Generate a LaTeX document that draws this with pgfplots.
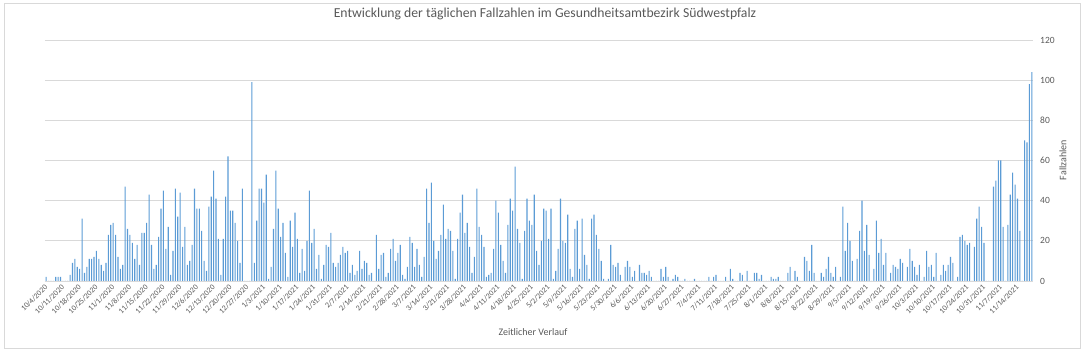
\documentclass[border=0pt]{standalone}
\usepackage{pgfplots}
\pgfplotsset{compat=1.18}
\usepackage{fontspec}
\setmainfont{Carlito}
\definecolor{barblue}{HTML}{5B9BD5}
\definecolor{txtgray}{HTML}{595959}
\definecolor{gridgray}{HTML}{D9D9D9}
\begin{document}
\begin{tikzpicture}[x=1pt,y=1pt]
\path[use as bounding box] (0,0) rectangle (1085,356);
\draw[gridgray, line width=0.8pt] (4.5,7.5) rectangle (1080.5,353);
\node[text=txtgray, font=\fontsize{13.7}{15}\selectfont] at (545,342) {Entwicklung der täglichen Fallzahlen im Gesundheitsamtbezirk Südwestpfalz};
\node[text=txtgray, font=\fontsize{10}{12}\selectfont] at (533,24) {Zeitlicher Verlauf};
\node[text=txtgray, font=\fontsize{10}{12}\selectfont, rotate=90] at (1063,196) {Fallzahlen};
\begin{axis}[
  at={(45pt,75pt)}, anchor=south west,
  scale only axis, width=988pt, height=241pt,
  xmin=-0.5, xmax=412.5, ymin=0, ymax=120,
  ybar, bar width=1.1pt,
  axis line style={draw=none},
  major tick length=0pt,
  ytick={0,20,...,120},
  ymajorgrids, grid style={gridgray, line width=0.8pt},
  yticklabel pos=right,
  /pgf/number format/assume math mode=true,
  yticklabel style={anchor=west, inner sep=0pt, xshift=7pt, text=txtgray, font=\fontsize{9.5}{11}\selectfont},
  xtick={0,7,...,406},
  xticklabels={10/4/2020,10/11/2020,10/18/2020,10/25/2020,11/1/2020,11/8/2020,11/15/2020,11/22/2020,11/29/2020,12/6/2020,12/13/2020,12/20/2020,12/27/2020,1/3/2021,1/10/2021,1/17/2021,1/24/2021,1/31/2021,2/7/2021,2/14/2021,2/21/2021,2/28/2021,3/7/2021,3/14/2021,3/21/2021,3/28/2021,4/4/2021,4/11/2021,4/18/2021,4/25/2021,5/2/2021,5/9/2021,5/16/2021,5/23/2021,5/30/2021,6/6/2021,6/13/2021,6/20/2021,6/27/2021,7/4/2021,7/11/2021,7/18/2021,7/25/2021,8/1/2021,8/8/2021,8/15/2021,8/22/2021,8/29/2021,9/5/2021,9/12/2021,9/19/2021,9/26/2021,10/3/2021,10/10/2021,10/17/2021,10/24/2021,10/31/2021,11/7/2021,11/14/2021},
  xticklabel style={rotate=45, anchor=east, inner sep=0pt, text=txtgray, font=\fontsize{7.8}{9}\selectfont},
  xticklabel shift=5pt,
]
\addplot[fill=barblue, draw=none] coordinates {
(0,2)(1,0)(2,0)(3,0)(4,2)(5,2)(6,2)(7,0)(8,0)(9,0)
(10,3)(11,9)(12,11)(13,7)(14,6)(15,31)(16,4)(17,7)(18,11)(19,11)
(20,12)(21,15)(22,11)(23,8)(24,5)(25,9)(26,23)(27,28)(28,29)(29,23)
(30,12)(31,6)(32,8)(33,47)(34,26)(35,23)(36,19)(37,11)(38,18)(39,8)
(40,24)(41,24)(42,29)(43,43)(44,18)(45,6)(46,8)(47,22)(48,36)(49,45)
(50,16)(51,27)(52,3)(53,15)(54,46)(55,32)(56,44)(57,17)(58,27)(59,8)
(60,10)(61,18)(62,46)(63,36)(64,36)(65,25)(66,10)(67,5)(68,37)(69,42)
(70,55)(71,41)(72,21)(73,3)(74,21)(75,42)(76,62)(77,35)(78,35)(79,29)
(80,20)(81,9)(82,46)(83,0)(84,0)(85,0)(86,99)(87,9)(88,30)(89,46)
(90,46)(91,39)(92,53)(93,1)(94,7)(95,26)(96,55)(97,36)(98,22)(99,29)
(100,14)(101,2)(102,30)(103,17)(104,34)(105,21)(106,4)(107,16)(108,5)(109,20)
(110,45)(111,19)(112,26)(113,6)(114,13)(115,1)(116,8)(117,18)(118,17)(119,24)
(120,9)(121,7)(122,9)(123,13)(124,17)(125,14)(126,15)(127,4)(128,8)(129,3)
(130,5)(131,15)(132,6)(133,10)(134,9)(135,3)(136,4)(137,0)(138,23)(139,6)
(140,13)(141,14)(142,2)(143,4)(144,16)(145,21)(146,10)(147,14)(148,18)(149,3)
(150,1)(151,7)(152,22)(153,19)(154,7)(155,16)(156,8)(157,2)(158,12)(159,46)
(160,29)(161,49)(162,20)(163,11)(164,15)(165,23)(166,38)(167,21)(168,26)(169,25)
(170,15)(171,1)(172,21)(173,34)(174,43)(175,24)(176,29)(177,17)(178,4)(179,12)
(180,46)(181,27)(182,23)(183,17)(184,2)(185,3)(186,4)(187,16)(188,40)(189,34)
(190,18)(191,10)(192,4)(193,28)(194,41)(195,35)(196,57)(197,26)(198,19)(199,1)
(200,25)(201,41)(202,30)(203,28)(204,43)(205,15)(206,8)(207,20)(208,36)(209,35)
(210,21)(211,36)(212,1)(213,5)(214,16)(215,41)(216,20)(217,19)(218,33)(219,6)
(220,2)(221,26)(222,30)(223,6)(224,31)(225,13)(226,8)(227,1)(228,31)(229,33)
(230,23)(231,16)(232,10)(233,1)(234,0)(235,1)(236,18)(237,8)(238,7)(239,9)
(240,3)(241,0)(242,7)(243,10)(244,7)(245,2)(246,5)(247,0)(248,8)(249,4)
(250,4)(251,3)(252,5)(253,2)(254,0)(255,0)(256,0)(257,6)(258,2)(259,7)
(260,2)(261,0)(262,1)(263,3)(264,2)(265,0)(266,0)(267,1)(268,0)(269,0)
(270,0)(271,1)(272,0)(273,0)(274,0)(275,0)(276,0)(277,2)(278,0)(279,2)
(280,3)(281,0)(282,0)(283,0)(284,2)(285,0)(286,6)(287,1)(288,0)(289,0)
(290,4)(291,3)(292,0)(293,5)(294,0)(295,0)(296,4)(297,4)(298,1)(299,3)
(300,0)(301,0)(302,0)(303,2)(304,1)(305,1)(306,2)(307,0)(308,0)(309,0)
(310,4)(311,7)(312,0)(313,5)(314,2)(315,0)(316,0)(317,12)(318,10)(319,5)
(320,18)(321,4)(322,0)(323,0)(324,4)(325,2)(326,6)(327,12)(328,4)(329,2)
(330,7)(331,0)(332,2)(333,37)(334,15)(335,29)(336,20)(337,10)(338,0)(339,11)
(340,25)(341,40)(342,15)(343,28)(344,13)(345,0)(346,6)(347,30)(348,14)(349,21)
(350,8)(351,14)(352,0)(353,4)(354,8)(355,7)(356,6)(357,11)(358,9)(359,0)
(360,7)(361,16)(362,10)(363,7)(364,3)(365,8)(366,0)(367,2)(368,15)(369,7)
(370,8)(371,2)(372,14)(373,0)(374,3)(375,8)(376,5)(377,8)(378,12)(379,9)
(380,0)(381,2)(382,22)(383,23)(384,20)(385,18)(386,19)(387,0)(388,17)(389,31)
(390,37)(391,27)(392,19)(393,0)(394,0)(395,0)(396,47)(397,50)(398,60)(399,60)
(400,27)(401,0)(402,28)(403,43)(404,54)(405,48)(406,41)(407,25)(408,0)(409,70)
(410,69)(411,98)(412,104)
};
\end{axis}
\end{tikzpicture}
\end{document}
